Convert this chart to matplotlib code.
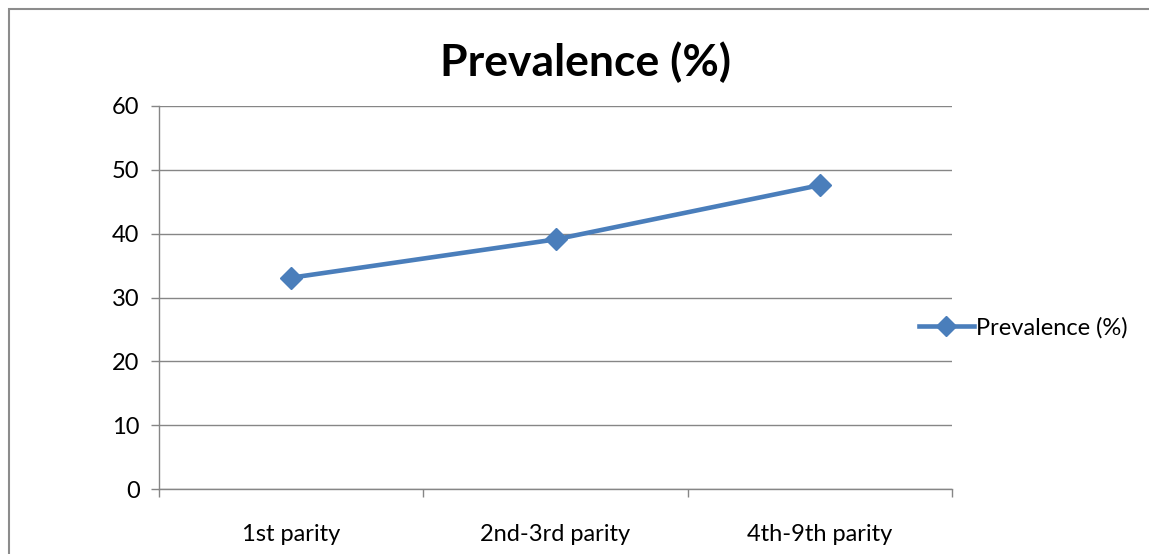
import numpy as np
import matplotlib
matplotlib.use("Agg")
import matplotlib.pyplot as plt
from matplotlib.patches import Rectangle

plt.rcParams["font.family"] = ["Lato", "DejaVu Sans"]

categories = ["1st parity", "2nd-3rd parity", "4th-9th parity"]
prevalence = [33.1, 39.1, 47.6]
series_name = "Prevalence (%)"

LINE_BLUE = "#4a7ebb"
GRID_GRAY = "#868686"

fig = plt.figure(figsize=(11.49, 5.54), dpi=100)
ax = fig.add_axes([159 / 1149, 1 - 489 / 554, (952 - 159) / 1149, (489 - 106) / 554])

# outer chart frame
fig.patches.append(Rectangle((9 / 1149, -0.1), 1.2, (554 - 9) / 554 + 0.1,
                             transform=fig.transFigure, fill=False,
                             edgecolor="#8c8c8c", linewidth=1.5))

x = np.arange(len(categories))
ax.plot(x, prevalence, color=LINE_BLUE, linewidth=3.3, marker="D",
        markersize=11, label=series_name, zorder=3, clip_on=False)

ax.set_xlim(-0.5, len(categories) - 0.5)
ax.set_ylim(0, 60)
ax.set_yticks(np.arange(0, 61, 10))
ax.yaxis.grid(True, color=GRID_GRAY, linewidth=1)
ax.set_axisbelow(True)

ax.set_xticks(x)
ax.set_xticklabels(categories)
ax.set_xticks(np.arange(-0.5, len(categories), 1), minor=True)
ax.tick_params(axis="x", which="major", length=0, pad=25, labelsize=17)
ax.tick_params(axis="x", which="minor", length=6, color=GRID_GRAY, width=1)
ax.tick_params(axis="y", length=6, color=GRID_GRAY, width=1, pad=8,
               labelsize=17)

for side in ["top", "right"]:
    ax.spines[side].set_visible(False)
for side in ["left", "bottom"]:
    ax.spines[side].set_color(GRID_GRAY)
    ax.spines[side].set_linewidth(1)

fig.text(585 / 1149, 1 - 62 / 554, series_name, ha="center", va="center",
         fontsize=32, fontweight="bold")

ax.legend(loc="center left", bbox_to_anchor=(0.932, 0.422), frameon=False,
          fontsize=17, handlelength=2.3, handletextpad=0.1, markerscale=0.9)

fig.savefig("out.png", dpi=100)
